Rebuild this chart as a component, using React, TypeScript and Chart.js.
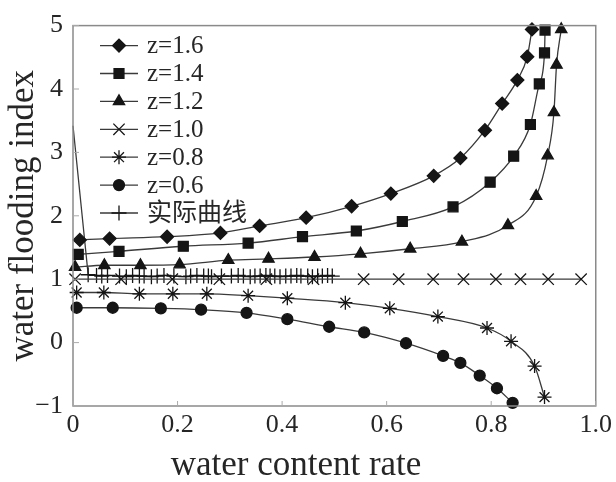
import React, { useEffect, useRef } from 'react';
import { Chart, registerables } from 'chart.js';
import { drawPoint } from 'chart.js/helpers';

Chart.register(...registerables);

const xTicks = [0, 0.2, 0.4, 0.6, 0.8, 1.0];
const xTickLabels = ['0', '0.2', '0.4', '0.6', '0.8', '1.0'];
const yTicks = [-1, 0, 1, 2, 3, 4, 5];
const yTickLabels = ['\u22121', '0', '1', '2', '3', '4', '5'];

const xTitle = 'water content rate';
const yTitle = 'water flooding index';

const seriesNames = ['z=1.6', 'z=1.4', 'z=1.2', 'z=1.0', 'z=0.8', 'z=0.6', '实际曲线'];
const seriesMarkers = ['rectRot', 'rect', 'triangle', 'crossRot', 'star', 'circle', 'cross'];
const markerSizes = [6.5, 7, 6.5, 8, 7, 5.5, 7.5];

const z16X = [0.013, 0.070, 0.180, 0.282, 0.357, 0.446, 0.533, 0.608, 0.690, 0.741, 0.788, 0.821, 0.850, 0.869, 0.878];
const z16Y = [1.62, 1.64, 1.67, 1.73, 1.84, 1.97, 2.15, 2.35, 2.63, 2.91, 3.35, 3.77, 4.14, 4.51, 4.94];

const z14X = [0.010, 0.088, 0.211, 0.335, 0.439, 0.542, 0.630, 0.727, 0.798, 0.843, 0.875, 0.892, 0.902, 0.903];
const z14Y = [1.39, 1.44, 1.52, 1.57, 1.67, 1.76, 1.91, 2.14, 2.53, 2.94, 3.44, 4.08, 4.57, 4.93];

const z12X = [0.004, 0.060, 0.129, 0.204, 0.297, 0.374, 0.462, 0.550, 0.645, 0.744, 0.832, 0.886, 0.908, 0.920, 0.925, 0.934];
const z12Y = [1.19, 1.22, 1.22, 1.23, 1.30, 1.32, 1.35, 1.40, 1.48, 1.59, 1.85, 2.31, 2.95, 3.63, 4.38, 4.94];

const z10X = [0.004, 0.092, 0.190, 0.280, 0.370, 0.460, 0.556, 0.623, 0.689, 0.747, 0.809, 0.856, 0.909, 0.972];
const z10Y = [1.0, 1.0, 1.0, 1.0, 1.0, 1.0, 1.0, 1.0, 1.0, 1.0, 1.0, 1.0, 1.0, 1.0];

const z08X = [0.007, 0.059, 0.127, 0.191, 0.256, 0.335, 0.410, 0.521, 0.606, 0.698, 0.792, 0.838, 0.883, 0.902];
const z08Y = [0.79, 0.79, 0.77, 0.77, 0.77, 0.74, 0.70, 0.63, 0.54, 0.41, 0.23, 0.02, -0.37, -0.86];

const z06X = [0.007, 0.076, 0.168, 0.245, 0.332, 0.410, 0.490, 0.557, 0.637, 0.708, 0.741, 0.778, 0.811, 0.841];
const z06Y = [0.55, 0.55, 0.54, 0.52, 0.47, 0.37, 0.25, 0.16, -0.01, -0.21, -0.32, -0.52, -0.72, -0.95];

const actualX = [0.0, 0.029, 0.045, 0.055, 0.066, 0.089, 0.102, 0.114, 0.127, 0.136, 0.150, 0.161, 0.174, 0.193,
  0.216, 0.225, 0.237, 0.250, 0.259, 0.265, 0.284, 0.303, 0.316, 0.326, 0.339, 0.348, 0.358, 0.369, 0.377,
  0.386, 0.396, 0.407, 0.417, 0.428, 0.436, 0.449, 0.458, 0.468, 0.477, 0.487, 0.496];
const actualY = [3.42, 1.07, 1.06, 1.05, 1.06, 1.05, 1.04, 1.06, 1.05, 1.05, 1.04, 1.05, 1.06, 1.05,
  1.04, 1.05, 1.06, 1.05, 1.05, 1.04, 1.05, 1.05, 1.06, 1.05, 1.04, 1.05, 1.05, 1.06, 1.05,
  1.05, 1.04, 1.05, 1.05, 1.06, 1.05, 1.05, 1.04, 1.05, 1.05, 1.06, 1.05];

const SERIF = '"Liberation Serif", "Times New Roman", "Noto Sans CJK SC", serif';
const LINE_COLOR = '#3a3a3a';
const MARK_COLOR = '#151515';
const TEXT_COLOR = '#262626';

function zip(xs: number[], ys: number[]) {
  const n = Math.min(xs.length, ys.length);
  const out: { x: number; y: number }[] = [];
  for (let i = 0; i < n; i++) out.push({ x: xs[i], y: ys[i] });
  return out;
}

const frameAndLegend = {
  id: 'frameAndLegend',
  afterDatasetsDraw(chart: any) {
    const { ctx, chartArea } = chart;
    const { left, right, top, bottom } = chartArea;
    ctx.save();
    ctx.strokeStyle = '#8a8a8a';
    ctx.lineWidth = 1.5;
    ctx.strokeRect(left, top, right - left, bottom - top);
    // inward ticks
    const xs = chart.scales.x;
    const ys = chart.scales.y;
    ctx.lineWidth = 1;
    ctx.strokeStyle = '#aaaaaa';
    ctx.beginPath();
    xTicks.forEach((v) => {
      const px = xs.getPixelForValue(v);
      ctx.moveTo(px, bottom);
      ctx.lineTo(px, bottom - 5);
    });
    yTicks.forEach((v) => {
      const py = ys.getPixelForValue(v);
      ctx.moveTo(left, py);
      ctx.lineTo(left + 6, py);
    });
    ctx.stroke();

    // axis titles
    ctx.fillStyle = TEXT_COLOR;
    ctx.font = '35px ' + SERIF;
    ctx.textAlign = 'center';
    ctx.textBaseline = 'middle';
    ctx.fillText(xTitle, 296, 466);
    ctx.save();
    ctx.translate(24, (top + bottom) / 2);
    ctx.rotate(-Math.PI / 2);
    ctx.fillText(yTitle, 0, 0);
    ctx.restore();

    // legend
    const lx0 = left + 27;
    const lx1 = left + 65;
    const mx = left + 46;
    const tx = left + 74;
    seriesNames.forEach((name, i) => {
      const yRow = top + 20 + i * 27.9;
      ctx.strokeStyle = LINE_COLOR;
      ctx.lineWidth = 1.3;
      ctx.beginPath();
      ctx.moveTo(lx0, yRow);
      ctx.lineTo(lx1, yRow);
      ctx.stroke();
      ctx.fillStyle = MARK_COLOR;
      ctx.strokeStyle = MARK_COLOR;
      ctx.lineWidth = 1.3;
      drawPoint(ctx, { pointStyle: seriesMarkers[i], radius: markerSizes[i], rotation: 0, borderWidth: 1.3 }, mx, yRow);
      ctx.fillStyle = TEXT_COLOR;
      ctx.font = '25px ' + SERIF;
      ctx.textBaseline = 'middle';
      ctx.textAlign = 'left';
      ctx.fillText(name, tx, yRow + 1);
    });
    ctx.restore();
  },
};

export default function App() {
  const ref = useRef<HTMLCanvasElement | null>(null);
  useEffect(() => {
    if (!ref.current) return;
    const series = [
      zip(z16X, z16Y),
      zip(z14X, z14Y),
      zip(z12X, z12Y),
      zip(z10X, z10Y),
      zip(z08X, z08Y),
      zip(z06X, z06Y),
      zip(actualX, actualY),
    ];
    const datasets = series.map((data, i) => ({
      label: seriesNames[i],
      data,
      borderColor: LINE_COLOR,
      borderWidth: 1.3,
      backgroundColor: MARK_COLOR,
      pointBackgroundColor: MARK_COLOR,
      pointBorderColor: MARK_COLOR,
      pointBorderWidth: 1.3,
      pointStyle: seriesMarkers[i],
      pointRadius: i === 6 ? (c: any) => (c.dataIndex === 0 ? 0 : markerSizes[i]) : markerSizes[i],
      pointHoverRadius: markerSizes[i],
      cubicInterpolationMode: i === 6 ? 'default' : 'monotone',
      tension: 0,
      fill: false,
      clip: 12,
    }));
    const chart = new Chart(ref.current, {
      type: 'line',
      data: { datasets } as any,
      plugins: [frameAndLegend],
      options: {
        animation: false,
        responsive: true,
        maintainAspectRatio: false,
        layout: { padding: { top: 22, right: 15, left: 0, bottom: 0 } },
        plugins: { legend: { display: false }, tooltip: { enabled: false } },
        scales: {
          x: {
            type: 'linear',
            min: 0,
            max: 1,
            afterBuildTicks: (s: any) => { s.ticks = xTicks.map((v) => ({ value: v })); },
            afterFit: (s: any) => { s.height = 76; },
            grid: { display: false, drawTicks: false },
            border: { display: false },
            ticks: {
              callback: (_v: any, i: number) => xTickLabels[i],
              font: { family: SERIF, size: 26 },
              color: TEXT_COLOR,
              padding: 4,
              maxRotation: 0,
              autoSkip: false,
            },
            title: { display: false },
          },
          y: {
            type: 'linear',
            min: -1,
            max: 5,
            afterBuildTicks: (s: any) => { s.ticks = yTicks.map((v) => ({ value: v })); },
            afterFit: (s: any) => { s.width = 73; },
            grid: { display: false, drawTicks: false },
            border: { display: false },
            ticks: {
              callback: (_v: any, i: number) => yTickLabels[i],
              font: { family: SERIF, size: 26 },
              color: TEXT_COLOR,
              padding: 10,
              autoSkip: false,
            },
            title: { display: false },
          },
        },
      } as any,
    });
    return () => chart.destroy();
  }, []);
  return (
    <div style={{ position: 'fixed', left: 0, top: 0, width: 616, height: 482, background: '#fff' }}>
      <canvas ref={ref} />
    </div>
  );
}
